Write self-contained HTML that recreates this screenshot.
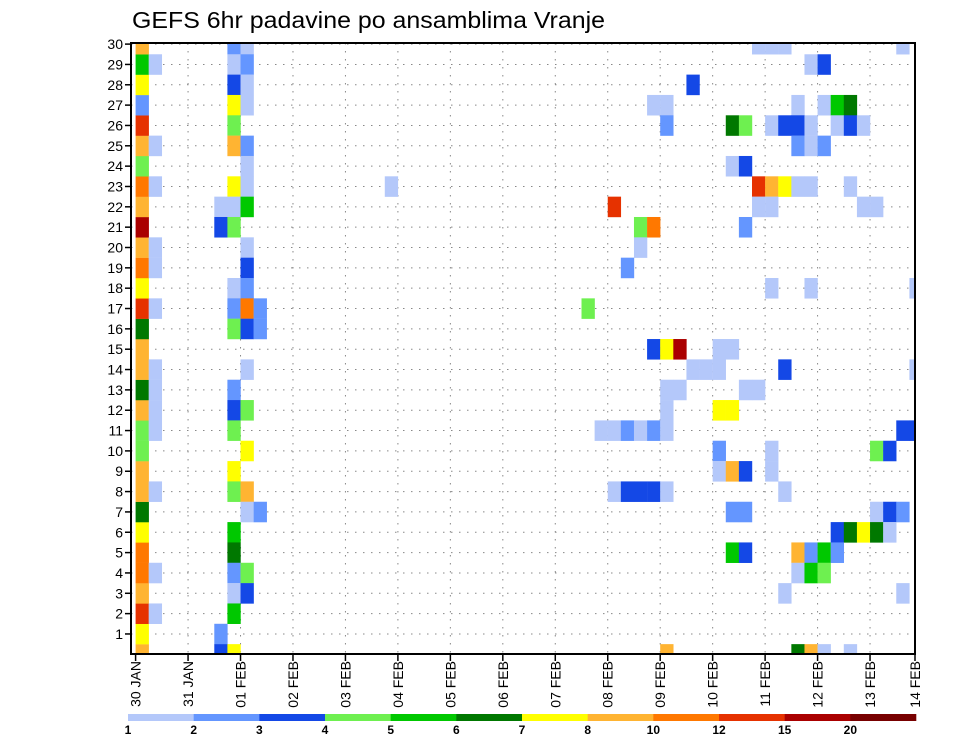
<!DOCTYPE html>
<html><head><meta charset="utf-8"><style>
html,body{margin:0;padding:0;background:#fff;}
svg{display:block;font-family:"Liberation Sans",sans-serif;}
</style></head><body>
<svg id="chart" width="960" height="742" viewBox="0 0 960 742" xmlns="http://www.w3.org/2000/svg">
<defs><clipPath id="plotclip"><rect x="131" y="43" width="784" height="611"/></clipPath></defs>
<text x="132" y="28" font-size="23" textLength="473" lengthAdjust="spacingAndGlyphs" fill="#000">GEFS 6hr padavine po ansamblima Vranje</text>
<g id="grid"></g>
<g id="cells" clip-path="url(#plotclip)"></g>
<rect x="131" y="43" width="784" height="611" fill="none" stroke="#000" stroke-width="2"/>
<g id="yaxis"></g>
<g id="xaxis"></g>
<g id="cbar"></g>
</svg>
<script>
// ---- data ----
const dayLabels = ["30 JAN","31 JAN","01 FEB","02 FEB","03 FEB","04 FEB","05 FEB","06 FEB","07 FEB","08 FEB","09 FEB","10 FEB","11 FEB","12 FEB","13 FEB","14 FEB"];
const memberTicks = [1,2,3,4,5,6,7,8,9,10,11,12,13,14,15,16,17,18,19,20,21,22,23,24,25,26,27,28,29,30];
const levels = [1,2,3,4,5,6,7,8,10,12,15,20];
const levelColors = ["#b4c8fa","#6496ff","#1448e6","#6ef050","#00c800","#007800","#ffff00","#ffb432","#ff7800","#e63200","#aa0000","#780000"];
// representative precipitation per bin
const binVal = [1.5,2.5,3.5,4.5,5.5,6.5,7.5,9,11,13.5,17,22];
// column 0 (30 JAN 00Z) values for members 0..30 (as bins)
const col0Bins = [7,6,9,7,8,8,6,5,7,7,3,3,7,5,7,7,5,9,6,8,7,10,7,8,3,7,9,1,6,4,7];
// other cells: time-step index, member, bin
const cellStep = [
 1,1,1,1,1,1,1,1,1,1,1,1,1,
 6,6,6,6,
 7,7,7,7,7,7,7,7,7,7,7,7,7,7,7,7,7,7,7,7,7,7,7,
 8,8,8,8,8,8,8,8,8,8,8,8,8,8,8,8,8,8,8,8,
 9,9,9,
 47,48,49,58, 51,52, 42, 39,40,50,52,53,54, 40,45,46,48,49,50,51,53,54,55, 50,51,52, 45,46,
 47,48,49,50,51,54,19, 36,47,48,55,56, 38,39,46, 38, 37, 48,51,59, 34,
 39,40,41,44,45, 42,43,44,49,59, 40,41,46,47, 40,44,45, 35,36,37,38,39,40,58,59,
 44,48,56,57, 44,45,46,48, 36,37,38,39,40,49, 45,46,56,57,58, 53,54,55,56,57,
 45,46,50,51,52,53, 50,51,52, 49,58, 40,50,51,52,54];
const cellMember = [
 29,25,23,20,19,17,14,13,12,11,8,4,2,
 22,21,1,0,
 30,29,28,27,26,25,23,22,21,18,17,16,13,12,11,9,8,6,5,4,3,2,0,
 30,29,28,27,25,24,23,22,20,19,18,17,16,14,12,10,8,7,4,3,
 17,16,7,
 30,30,30,30, 29,29, 28, 27,27,27,27,27,27, 26,26,26,26,26,26,26,26,26,26, 25,25,25, 24,24,
 23,23,23,23,23,23,23, 22,22,22,22,22, 21,21,21, 20, 19, 18,18,18, 17,
 15,15,15,15,15, 14,14,14,14,14, 13,13,13,13, 12,12,12, 11,11,11,11,11,11,11,11,
 10,10,10,10, 9,9,9,9, 8,8,8,8,8,8, 7,7,7,7,7, 6,6,6,6,6,
 5,5,5,5,5,5, 4,4,4, 3,3, 0,0,0,0,0];
const cellBin = [
 0,0,0,0,0,0,0,0,0,0,0,0,0,
 0,2,1,2,
 1,0,2,6,3,7,6,0,3,0,1,3,1,2,3,6,3,4,5,1,0,4,6,
 0,1,0,0,1,0,0,4,0,2,1,8,2,0,3,6,7,0,3,2,
 1,1,1,
 0,0,0,0, 0,2, 2, 0,0,0,0,4,5, 1,5,3,0,2,2,0,0,2,0, 1,0,1, 0,2,
 9,7,6,0,0,0,0, 9,0,0,0,0, 3,8,1, 0, 1, 0,0,0, 3,
 2,6,10,0,0, 0,0,0,2,0, 0,0,0,0, 0,6,6, 0,0,1,0,1,0,2,2,
 1,0,3,2, 0,7,2,0, 0,2,2,2,0,0, 1,1,0,2,1, 2,5,6,5,0,
 4,2,7,1,4,1, 0,4,3, 0,0, 7,5,7,0,0];

// ---- axes ----
const X0 = 135.6, DAY = 52.46, STEP = DAY/4;
const Y0 = 654.3, ROW = 20.34;
function xDay(d){ return X0 + d*DAY; }
function xStep(s){ return X0 + s*STEP; }
function yMem(m){ return Y0 - m*ROW; }
function colorFor(v){ let i=0; for(let k=0;k<levels.length;k++){ if(v>=levels[k]) i=k; } return levelColors[i]; }
const NS="http://www.w3.org/2000/svg";
function mk(tag, attrs, parent){ const e=document.createElementNS(NS,tag); for(const k in attrs) e.setAttribute(k,attrs[k]); parent.appendChild(e); return e; }

// grid
const grid=document.getElementById('grid');
memberTicks.forEach(m=>{
  const l=mk('line',{x1:131,x2:915,y1:yMem(m),y2:yMem(m),stroke:'#888','stroke-width':1,'stroke-dasharray':'1.5,6.5'},grid);
  
  
});
dayLabels.forEach((d,i)=>{
  if(i===0||i===15) return;
  const l=mk('line',{x1:xDay(i),x2:xDay(i),y1:43,y2:654,stroke:'#888','stroke-width':1,'stroke-dasharray':'1.5,6.5'},grid);
  
  
});

// cells
const cells=document.getElementById('cells');
function drawCell(step, mem, v){
  const r=mk('rect',{x:xStep(step),y:yMem(mem)-ROW/2,width:STEP+0.2,height:ROW+0.2,fill:colorFor(v)},cells);
  
  
}
col0Bins.forEach((b,m)=>drawCell(0,m,binVal[b]));
for(let i=0;i<cellStep.length;i++) drawCell(cellStep[i],cellMember[i],binVal[cellBin[i]]);

// y axis
const ya=document.getElementById('yaxis');
memberTicks.forEach(m=>{
  const t=mk('line',{x1:125,x2:131,y1:yMem(m),y2:yMem(m),stroke:'#000','stroke-width':1.5},ya);
  
  
  const tx=mk('text',{x:123,y:yMem(m)+5,'font-size':14,'text-anchor':'end',fill:'#000'},ya);
  tx.textContent=m;
  
  
});

// x axis
const xa=document.getElementById('xaxis');
dayLabels.forEach((d,i)=>{
  const x = i===15 ? 915 : xDay(i);
  const t=mk('line',{x1:x,x2:x,y1:654,y2:661,stroke:'#000','stroke-width':1.5},xa);
  
  
  const tx=mk('text',{x:0,y:0,'font-size':14,'text-anchor':'end',fill:'#000',transform:`translate(${x+5},661) rotate(-90)`},xa);
  tx.textContent=d;
  
  
});

// colorbar
const cb=document.getElementById('cbar');
const CB0=128, CBW=(916-128)/levels.length;
levels.forEach((lv,i)=>{
  const r=mk('rect',{x:CB0+i*CBW,y:714,width:CBW+0.3,height:7,fill:levelColors[i]},cb);
  
  
  const tx=mk('text',{x:CB0+i*CBW,y:734,'font-size':12,'font-weight':'bold','text-anchor':'middle',fill:'#000'},cb);
  tx.textContent=lv;
  
  
});
</script>
</body></html>
